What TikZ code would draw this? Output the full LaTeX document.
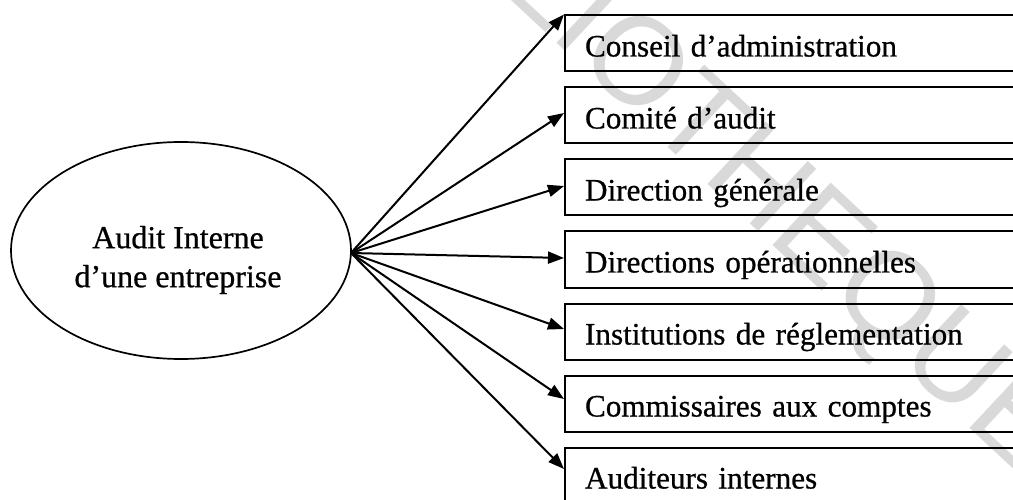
\documentclass[tikz,border=0pt]{standalone}
\usepackage{fontspec}
\setmainfont{Liberation Serif}[FakeBold=0.7]
\newfontfamily\wmfont{Liberation Sans}
\usetikzlibrary{arrows.meta,shapes.geometric,calc}

\tikzset{
  box/.style={draw, line width=2pt, anchor=north west, minimum width=480pt,
    minimum height=56pt, inner xsep=16pt, text width=440pt, align=left,
    text height=30pt, text depth=4pt, font=\fontsize{31.2}{39}\selectfont},
  hubarrow/.style={line width=2pt, -{Triangle[length=16pt,width=12pt]}},
  watermark/.style={rotate=-43, text=black!15, inner sep=0pt,
    font=\wmfont\fontsize{124}{124}\selectfont}
}

\begin{document}
\begin{tikzpicture}[x=1pt,y=-1pt]
  \useasboundingbox (0,0) rectangle (1013,500);
  \clip (0,0) rectangle (1013,500);

  % library stamp behind the diagram
  \coordinate (wmpt) at (574,59.5);
  \node[watermark, anchor=base east] (wmleft) at (wmpt) {BIBLI};
  \node[watermark, anchor=base west] (wmright) at (wmpt) {OTHEQUE};

  % source ellipse
  \node[draw, ellipse, line width=1.7pt, minimum width=340pt, minimum height=217pt]
    (audit) at (181,250.5) {};
  \node[align=center, font=\fontsize{32}{39}\selectfont] (audittext) at (178,260)
    {Audit Interne\\d’une entreprise};
  \coordinate (hub) at (351,253);

  % recipients
  \node[box] (b1) at (564,14.5)  {Conseil d’administration};
  \node[box] (b2) at (564,86.5)  {Comité d’audit};
  \node[box] (b3) at (564,158.5) {Direction générale};
  \node[box] (b4) at (564,230.5) {Directions opérationnelles};
  \node[box] (b5) at (564,302.5) {Institutions de réglementation};
  \node[box] (b6) at (564,374.5) {Commissaires aux comptes};
  \node[box] (b7) at (564,446.5) {Auditeurs internes};

  % links
  \draw[hubarrow] (hub) -- (b1.north west);
  \draw[hubarrow] (hub) -- ($(b2.west)+(0,-2.5)$);
  \draw[hubarrow] (hub) -- ($(b3.west)+(0,-1.5)$);
  \draw[hubarrow] (hub) -- ($(b4.west)+(0,-1.5)$);
  \draw[hubarrow] (hub) -- ($(b5.west)+(0,-2.5)$);
  \draw[hubarrow] (hub) -- ($(b6.west)+(0,-4.5)$);
  \draw[hubarrow] (hub) -- ($(b7.west)+(0,-6.5)$);
\end{tikzpicture}
\end{document}
